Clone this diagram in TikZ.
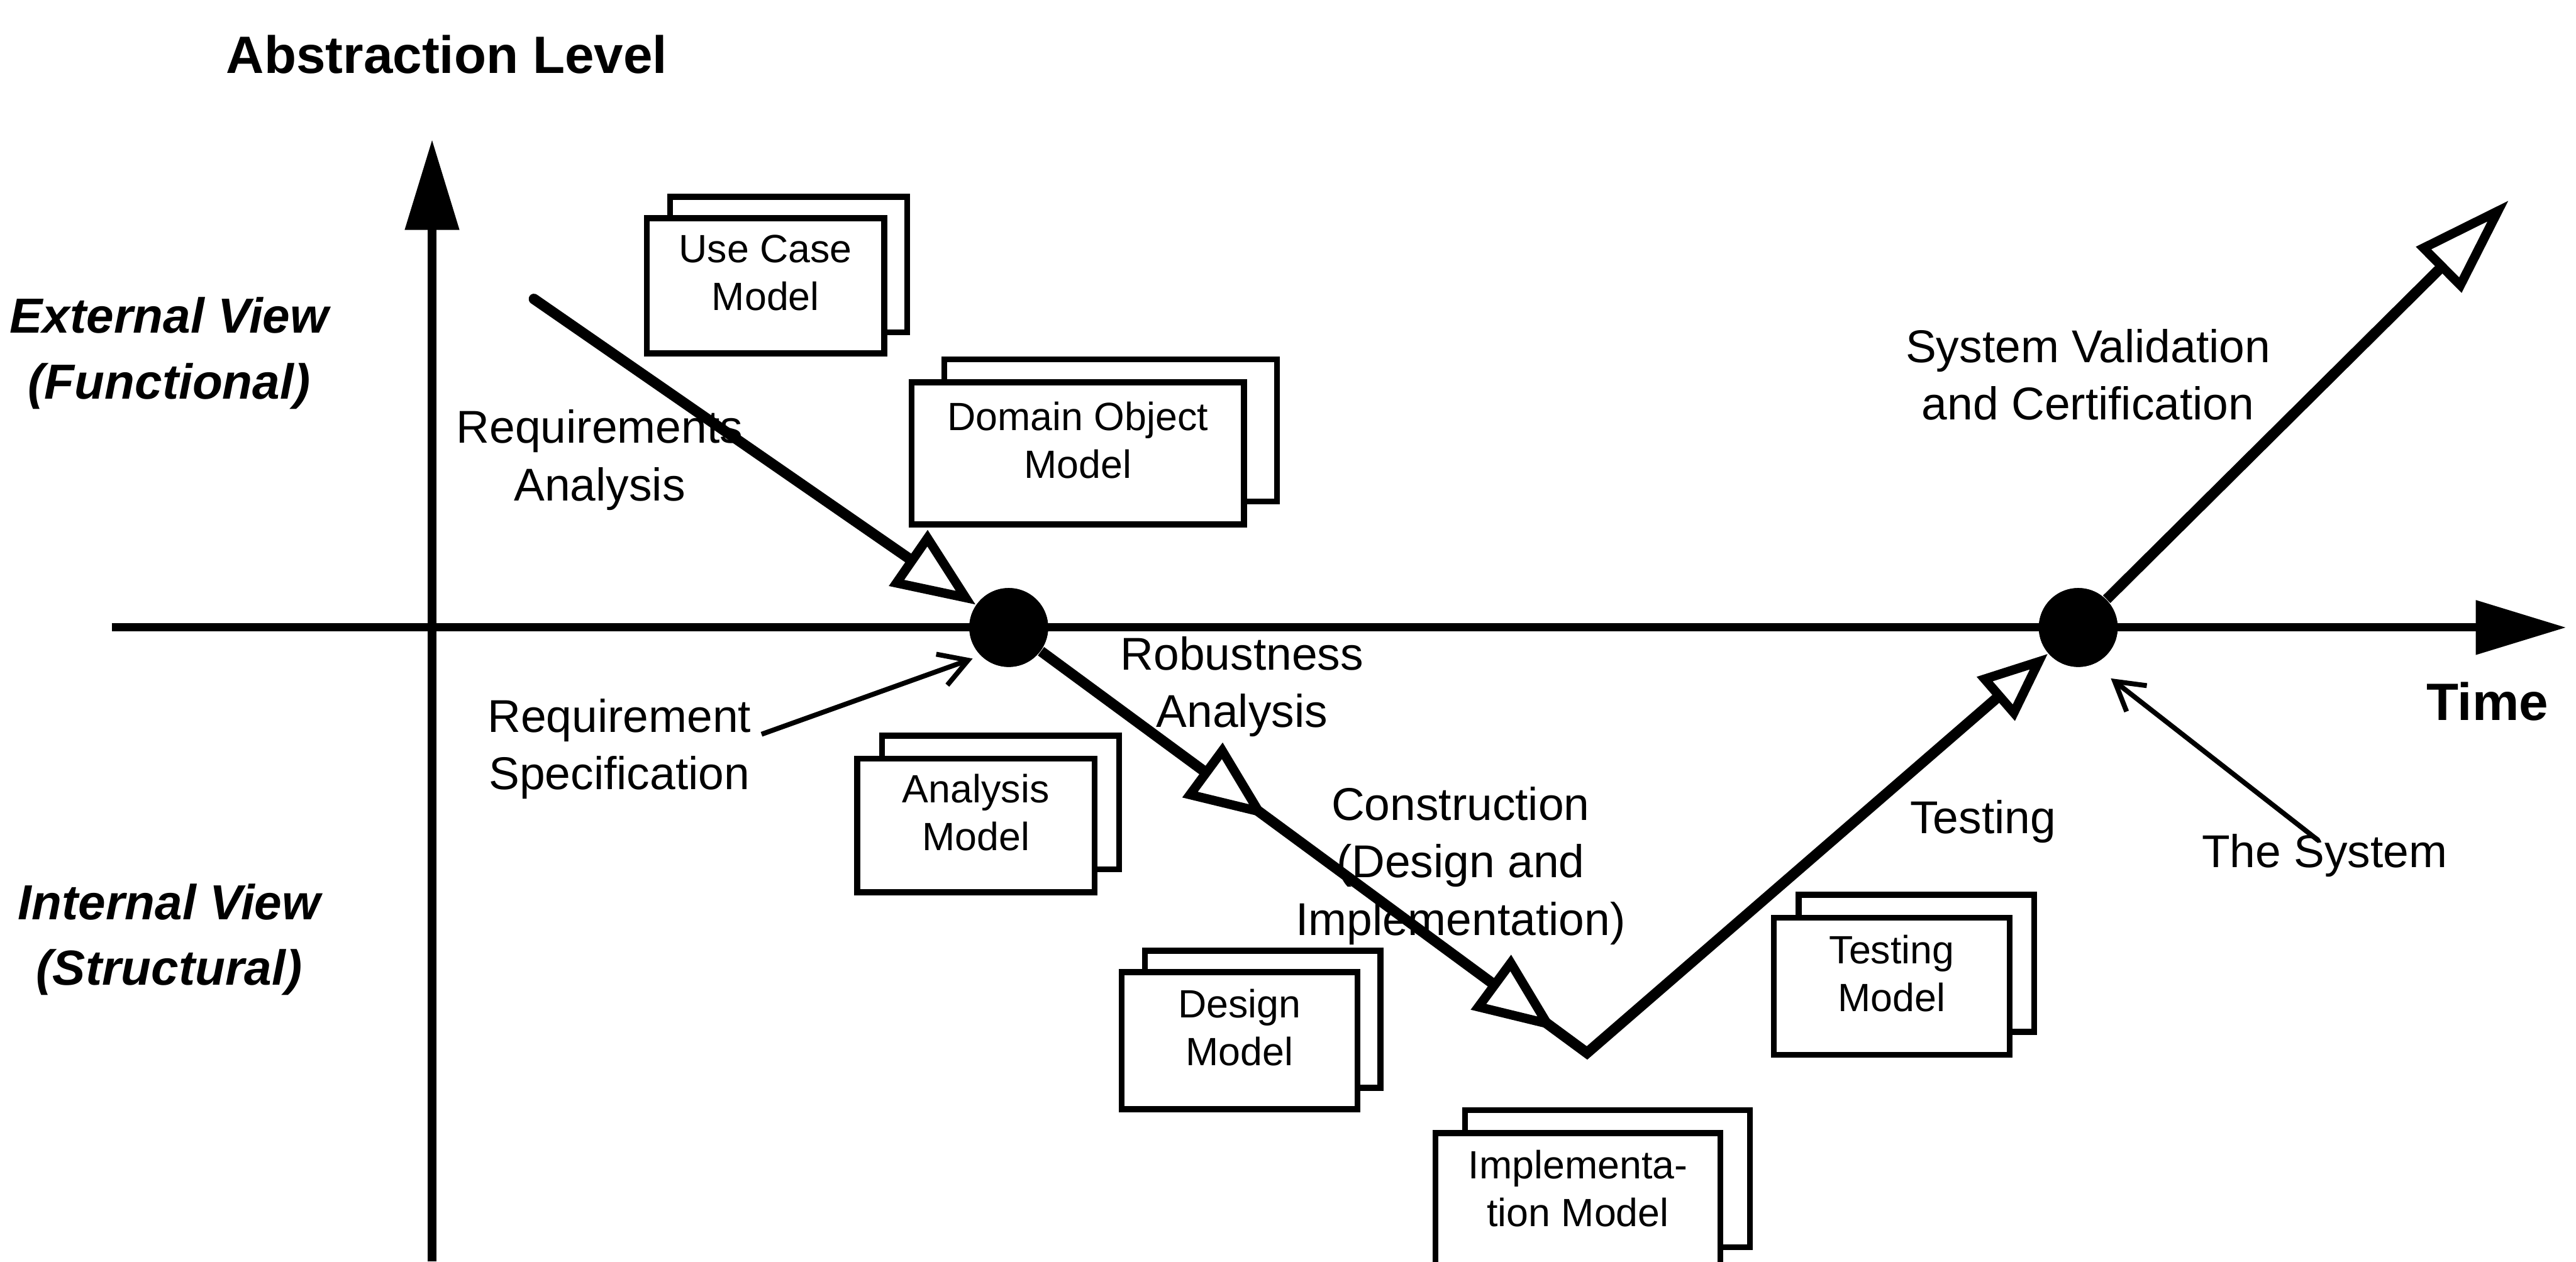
\documentclass[tikz,border=0pt]{standalone}
\usepackage{fontspec}
\setmainfont{Liberation Sans}
\usetikzlibrary{arrows.meta,decorations.markings}

\tikzset{
  opentri/.tip={Triangle[length=25pt,width=20pt,fill=white,line width=2.8pt]},
  opentrismall/.tip={Triangle[length=21pt,width=17pt,fill=white,line width=2.8pt]},
  opentrilong/.tip={Triangle[length=30pt,width=19pt,fill=white,line width=2.8pt]},
}

\begin{document}
\begin{tikzpicture}[
  x=0.5pt, y=-0.5pt,
  axisline/.style={line width=2.5pt, -{Triangle[length=27.5pt,width=16pt]}},
  flow/.style={line width=3.2pt, line join=miter},
  pointer/.style={line width=1.5pt, -{Straight Barb[length=8.5pt,width=10pt,line width=1.5pt]}},
  dot/.style={circle, fill=black, inner sep=0pt, minimum size=24pt},
  mbox/.style 2 args={draw, line width=1.8pt, fill=white, inner sep=0pt,
    minimum width=#1, minimum height=#2},
  boxtext/.style={align=center, inner sep=0pt, font=\fontsize{12}{14.5}\selectfont},
  lbl/.style={align=center, inner sep=1pt, font=\fontsize{14}{17.5}\selectfont},
  view/.style={align=center, inner sep=1pt, font=\fontsize{15}{20}\selectfont\bfseries\itshape},
  axislabel/.style={inner sep=1pt, font=\fontsize{16}{19}\selectfont\bfseries},
]
\useasboundingbox (0,0) rectangle (1568,768);

% axes
\coordinate (ybottom) at (263,768);
\coordinate (ytop) at (263,85);
\coordinate (xleft) at (68,382);
\coordinate (xright) at (1562,382);
\draw[axisline] (ybottom) -- (ytop);
\draw[axisline] (xleft) -- (xright);

\node[axislabel] (ablevel) at (272,33) {Abstraction Level};
\node[axislabel] (time) at (1514,427) {Time};
\node[view] (extview) at (103,215) {External View\\(Functional)};
\node[view] (intview) at (103,572) {Internal View\\(Structural)};

% model stacks: back sheet first, then the front sheet and its title
\node[mbox={72.2pt}{41.2pt}] (ucmB) at (480,161) {};
\node[mbox={72.2pt}{41.2pt}] (ucm) at (466,174) {};
\node[boxtext] (ucmT) at ([yshift=4pt]ucm.center) {Use Case\\Model};

\node[mbox={101.2pt}{43.2pt}] (domB) at (676,262) {};
\node[mbox={101.2pt}{43.2pt}] (dom) at (656,276) {};
\node[boxtext] (domT) at ([yshift=4pt]dom.center) {Domain Object\\Model};

\node[mbox={72.2pt}{40.7pt}] (anaB) at (609,488.5) {};
\node[mbox={72.2pt}{40.7pt}] (ana) at (594,502.5) {};
\node[boxtext] (anaT) at ([yshift=4pt]ana.center) {Analysis\\Model};

\node[mbox={71.7pt}{41.7pt}] (desB) at (768.5,620.5) {};
\node[mbox={71.7pt}{41.7pt}] (des) at (754.5,633.5) {};
\node[boxtext] (desT) at ([yshift=4pt]des.center) {Design\\Model};

\node[mbox={86.7pt}{41.7pt}] (impB) at (978.5,717.5) {};
\node[mbox={86.7pt}{41.7pt}] (imp) at (960.5,731.5) {};
\node[boxtext] (impT) at ([yshift=4pt]imp.center) {Implementa-\\tion Model};

\node[mbox={71.7pt}{41.7pt}] (tstB) at (1166.5,586.5) {};
\node[mbox={71.7pt}{41.7pt}] (tst) at (1151.5,600.5) {};
\node[boxtext] (tstT) at ([yshift=4pt]tst.center) {Testing\\Model};

% activity labels
\node[lbl] (reqana) at (365,280) {Requirements\\Analysis};
\node[lbl] (reqspec) at (377,456) {Requirement\\Specification};
\node[lbl] (robust) at (756,418) {Robustness\\Analysis};
\node[lbl] (constr) at (889,527) {Construction\\(Design and\\Implementation)};
\node[lbl] (testlbl) at (1207,500) {Testing};
\node[lbl] (sysval) at (1271,228) {System Validation\\and Certification};
\node[lbl] (thesys) at (1415,521) {The System};

% the V-shaped development path
\coordinate (start) at (325,182);
\coordinate (vbottom) at (966,641);
\coordinate (finish) at (1527,122);
\node[dot] (d1) at (614,382) {};
\node[dot] (d2) at (1265,382) {};

\draw[flow, line cap=round, -{opentri}] (start) -- (d1);
\draw[flow, -{opentrismall}, postaction={decorate},
  decoration={markings,
    mark=at position 86pt with {\arrow{opentri}},
    mark=at position 195pt with {\arrow{opentri}}}]
  (d1) -- (vbottom) -- (d2);
\draw[flow, -{opentrilong}] (d2) -- (finish);

% redraw the milestones on top of the path
\node[dot] at (d1) {};
\node[dot] at (d2) {};

% callouts
\draw[pointer, shorten >=2.5pt] ([xshift=2pt,yshift=4.5pt]reqspec.east) -- (d1.south west);
\draw[pointer, shorten >=6.8pt] ([xshift=-2pt,yshift=-3pt]thesys.north) -- (d2.-68);
\end{tikzpicture}
\end{document}
